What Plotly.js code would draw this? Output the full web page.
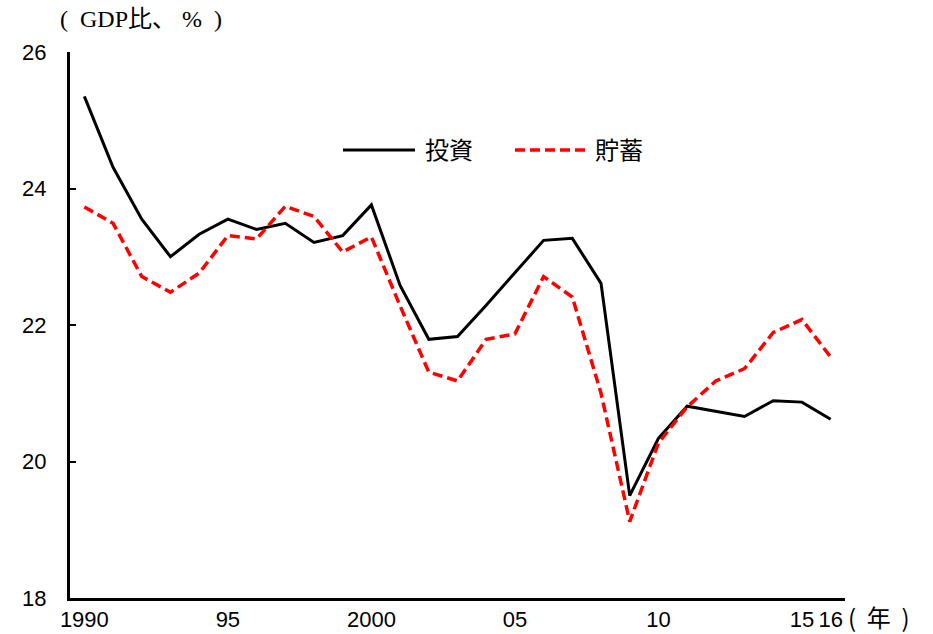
<!DOCTYPE html>
<html><head><meta charset="utf-8">
<script src="https://cdn.plot.ly/plotly-3.0.1.min.js"></script>
<style>body{margin:0;background:#fff}#c{width:933px;height:634px}</style>
</head><body><div id="c"></div>
<script>
const years = [1990,1991,1992,1993,1994,1995,1996,1997,1998,1999,2000,2001,2002,2003,2004,2005,2006,2007,2008,2009,2010,2011,2012,2013,2014,2015,2016];
const investment = [25.35,24.31,23.55,23.00,23.33,23.55,23.40,23.49,23.21,23.31,23.76,22.58,21.79,21.83,22.29,22.76,23.24,23.27,22.61,19.50,20.34,20.81,20.74,20.66,20.89,20.87,20.62];
const saving = [23.73,23.49,22.71,22.48,22.76,23.31,23.26,23.74,23.59,23.07,23.29,22.28,21.31,21.18,21.79,21.87,22.71,22.41,21.00,19.12,20.27,20.80,21.18,21.36,21.89,22.08,21.53];
const tickVals = [1990,1995,2000,2005,2010,2015,2016];
const tickText = ['1990','95','2000','05','10','15','16'];
const seriesNames = ['投資','貯蓄'];
const yTitle = '(\u00A0\u00A0GDP比、\u00A0%\u00A0\u00A0)';
const xUnit = '(\u00A0\u00A0年\u00A0\u00A0)';

const font = 'Liberation Sans, Arial, Noto Sans CJK JP, sans-serif';
const traces = [
  {x: years, y: investment, name: seriesNames[0], mode: 'lines', line: {color: '#000', width: 3}, showlegend: false},
  {x: years, y: saving, name: seriesNames[1], mode: 'lines', line: {color: '#ff0000', width: 3.5, dash: '10px,5px'}, showlegend: false}
];
const W = 775, H = 546, L = 70, B = 598;
const px = v => (v - L) / W, py = v => (B - v) / H;
const layout = {
  width: 933, height: 634,
  margin: {l: 70, r: 88, t: 52, b: 36},
  paper_bgcolor: '#fff', plot_bgcolor: '#fff',
  font: {family: font, size: 22, color: '#000'},
  xaxis: {range: [1989.5, 2016.5], tickvals: tickVals, ticktext: tickText, showgrid: false, zeroline: false,
          showline: true, linecolor: '#000', linewidth: 3, ticks: '', tickfont: {size: 22}},
  yaxis: {range: [18, 26], dtick: 2, showgrid: false, zeroline: false, showline: true, linecolor: '#000', linewidth: 3,
          ticks: 'inside', ticklen: 6, tickwidth: 2, tickcolor: '#000', ticklabelstandoff: 16, tickfont: {size: 22}},
  shapes: [
    {type: 'line', xref: 'paper', yref: 'paper', x0: px(343), x1: px(415), y0: py(150), y1: py(150), line: {color: '#000', width: 3}},
    {type: 'line', xref: 'paper', yref: 'paper', x0: px(515), x1: px(585), y0: py(150), y1: py(150), line: {color: '#ff0000', width: 3.5, dash: '10px,5px'}}
  ],
  annotations: [
    {xref: 'paper', yref: 'paper', x: px(423), y: py(148), xanchor: 'left', yanchor: 'middle', text: seriesNames[0], showarrow: false, font: {size: 24, family: 'Noto Sans CJK JP, sans-serif'}},
    {xref: 'paper', yref: 'paper', x: px(593), y: py(148), xanchor: 'left', yanchor: 'middle', text: seriesNames[1], showarrow: false, font: {size: 24, family: 'Noto Sans CJK JP, sans-serif'}},
    {xref: 'paper', yref: 'paper', x: px(58), y: py(19), xanchor: 'left', yanchor: 'middle', text: yTitle, showarrow: false, font: {size: 24, family: 'Liberation Serif, Noto Sans CJK JP, serif'}},
    {xref: 'paper', yref: 'paper', x: px(846), y: py(616), xanchor: 'left', yanchor: 'middle', text: xUnit, showarrow: false, font: {size: 24, family: 'Noto Sans CJK JP, sans-serif'}}
  ]
};
Plotly.newPlot('c', traces, layout, {displayModeBar: false, staticPlot: true});
</script>
</body></html>
